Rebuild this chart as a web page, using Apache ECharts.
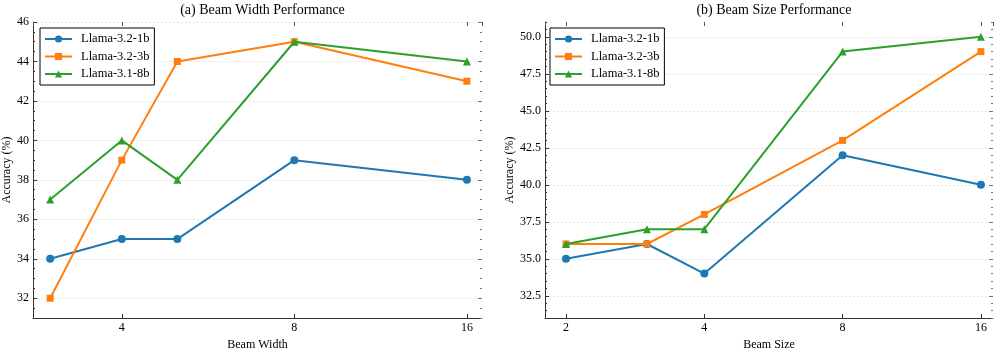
<!DOCTYPE html>
<html>
<head>
<meta charset="utf-8">
<script src="https://cdn.jsdelivr.net/npm/echarts@6/dist/echarts.min.js"></script>
<style>
  html, body { margin: 0; padding: 0; background: #fff; }
  #chart { width: 997px; height: 351px; }
</style>
</head>
<body>
<div id="chart"></div>
<script>
// models shown in both panels
const models = ['Llama-3.2-1b', 'Llama-3.2-3b', 'Llama-3.1-8b'];
const colors = ['#1f77b4', '#ff7f0e', '#2ca02c'];
const symbols = ['circle', 'rect', 'triangle'];

// (a) beam width
const widthX = [3, 4, 5, 8, 16];
const width1b = [34, 35, 35, 39, 38];
const width3b = [32, 39, 44, 45, 43];
const width8b = [37, 40, 38, 45, 44];
const widthYTicks = [32, 34, 36, 38, 40, 42, 44, 46];

// (b) beam size
const sizeX = [2, 3, 4, 8, 16];
const size1b = [35, 36, 34, 42, 40];
const size3b = [36, 36, 38, 43, 49];
const size8b = [36, 37, 37, 49, 50];
const sizeYTicks = [32.5, 35, 37.5, 40, 42.5, 45, 47.5, 50];

const font = 'Liberation Serif, Times New Roman, serif';
const dark = '#333';

const chart = echarts.init(document.getElementById('chart'));

function xAxes(gridIndex, min, max, name) {
  const base = {
    type: 'log', logBase: 2, gridIndex: gridIndex, min: min, max: max,
    splitLine: { show: false }
  };
  return [
    Object.assign({}, base, {
      position: 'bottom',
      name: name, nameLocation: 'middle', nameGap: 18,
      nameTextStyle: { fontFamily: font, fontSize: 12, color: '#000' },
      axisLine: { show: true, lineStyle: { color: dark, width: 1 } },
      axisTick: { show: true, inside: true, length: 4, lineStyle: { color: dark } },
      axisLabel: { fontFamily: font, fontSize: 12, color: '#000', margin: 4,
        showMinLabel: false, showMaxLabel: false }
    }),
    Object.assign({}, base, {
      position: 'top',
      axisLine: { show: false },
      axisTick: { show: true, inside: true, length: 4, lineStyle: { color: '#555' } },
      axisLabel: { show: false, showMinLabel: false, showMaxLabel: false }
    })
  ];
}

function yAxes(gridIndex, ticks, decimals, nameGap) {
  const base = { type: 'value', gridIndex: gridIndex, min: 31, max: ticks === widthYTicks ? 46 : 51 };
  return [
    Object.assign({}, base, {
      position: 'left',
      name: 'Accuracy (%)', nameLocation: 'middle', nameGap: nameGap,
      nameTextStyle: { fontFamily: font, fontSize: 12, color: '#000' },
      axisLine: { show: true, lineStyle: { color: dark, width: 1 } },
      axisTick: { show: true, inside: true, length: 4, customValues: ticks, lineStyle: { color: dark } },
      axisLabel: { fontFamily: font, fontSize: 12, color: '#000', margin: 4, customValues: ticks,
        formatter: v => v.toFixed(decimals) },
      splitLine: { show: true, lineStyle: { color: '#dedede', type: [2, 2], width: 0.8 } }
    }),
    Object.assign({}, base, {
      position: 'left', interval: 0.5,
      axisLine: { show: false }, axisLabel: { show: false }, splitLine: { show: false },
      axisTick: { show: true, inside: true, length: 2, lineStyle: { color: dark } }
    }),
    Object.assign({}, base, {
      position: 'right',
      axisLine: { show: false }, axisLabel: { show: false }, splitLine: { show: false },
      axisTick: { show: true, inside: true, length: 4, customValues: ticks, lineStyle: { color: '#777' } }
    }),
    Object.assign({}, base, {
      position: 'right', interval: 0.5,
      axisLine: { show: false }, axisLabel: { show: false }, splitLine: { show: false },
      axisTick: { show: true, inside: true, length: 2, lineStyle: { color: '#777' } }
    })
  ];
}

function makeSeries(xs, ys, i, xIdx, yIdx) {
  return {
    name: models[i],
    type: 'line',
    xAxisIndex: xIdx,
    yAxisIndex: yIdx,
    data: xs.map((x, k) => [x, ys[k]]),
    symbol: symbols[i],
    symbolSize: i === 1 ? 7 : 8,
    showAllSymbol: true,
    lineStyle: { width: 2, color: colors[i] },
    itemStyle: { color: colors[i] },
    emphasis: { disabled: true },
    z: 2 + i
  };
}

function legendAt(left) {
  return {
    data: models,
    orient: 'vertical',
    left: left, top: 28,
    itemWidth: 27, itemHeight: 9, itemGap: 3.5,
    padding: [4, 5, 4, 4],
    borderColor: '#000', borderWidth: 1, borderRadius: 0,
    backgroundColor: '#fff',
    selectedMode: false,
    textStyle: { fontFamily: font, fontSize: 12.5, color: '#000', lineHeight: 14, padding: [0, 0, 0, 4] }
  };
}

chart.setOption({
  animation: false,
  color: colors,
  title: [
    { text: '(a) Beam Width Performance', left: 257.5, top: -2, textAlign: 'center',
      textStyle: { fontFamily: font, fontSize: 14, fontWeight: 'normal', color: '#000' } },
    { text: '(b) Beam Size Performance', left: 769, top: -2, textAlign: 'center',
      textStyle: { fontFamily: font, fontSize: 14, fontWeight: 'normal', color: '#000' } }
  ],
  legend: [legendAt(40), legendAt(550)],
  grid: [
    { left: 33, right: 515, top: 22, bottom: 33, outerBoundsMode: 'none' },
    { left: 545, right: 4, top: 22, bottom: 33, outerBoundsMode: 'none' }
  ],
  xAxis: xAxes(0, 2.8, 17, 'Beam Width').concat(xAxes(1, 1.8, 17, 'Beam Size')),
  yAxis: yAxes(0, widthYTicks, 0, 17).concat(yAxes(1, sizeYTicks, 1, 29)),
  series: [
    makeSeries(widthX, width1b, 0, 0, 0),
    makeSeries(widthX, width3b, 1, 0, 0),
    makeSeries(widthX, width8b, 2, 0, 0),
    makeSeries(sizeX, size1b, 0, 2, 4),
    makeSeries(sizeX, size3b, 1, 2, 4),
    makeSeries(sizeX, size8b, 2, 2, 4)
  ]
});
</script>
</body>
</html>
